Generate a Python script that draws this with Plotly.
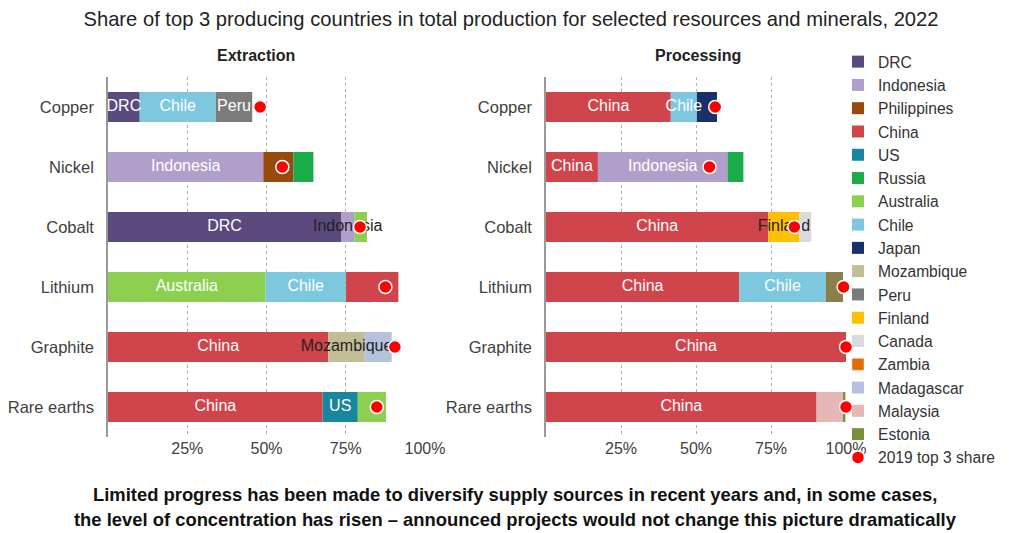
import plotly.graph_objects as go

W, H = 1029, 533

minerals = ["Copper", "Nickel", "Cobalt", "Lithium", "Graphite", "Rare earths"]

# Extraction: three largest producers per mineral, share of world output (%)
ext_first_country = ["DRC", "Indonesia", "DRC", "Australia", "China", "China"]
ext_first_share = [10.0, 49.0, 73.5, 49.7, 69.5, 67.7]
ext_second_country = ["Chile", "Philippines", "Indonesia", "Chile", "Mozambique", "US"]
ext_second_share = [24.0, 9.5, 4.2, 25.3, 11.5, 11.1]
ext_third_country = ["Peru", "Russia", "Australia", "China", "Madagascar", "Australia"]
ext_third_share = [11.5, 6.3, 4.0, 16.6, 8.5, 8.9]
ext_top3_2019 = [48.0, 55.0, 79.5, 87.5, 90.5, 84.8]

# Processing: three largest refiners per mineral, share of world output (%)
proc_first_country = ["China", "China", "China", "China", "China", "China"]
proc_first_share = [41.6, 17.3, 74.1, 64.4, 100.0, 90.2]
proc_second_country = ["Chile", "Indonesia", "Finland", "Chile", None, "Malaysia"]
proc_second_share = [8.7, 43.2, 10.4, 28.9, None, 8.8]
proc_third_country = ["Japan", "Russia", "Canada", "Argentina", None, "Estonia"]
proc_third_share = [6.7, 5.3, 3.9, 5.7, None, 0.8]
proc_top3_2019 = [56.4, 54.5, 82.8, 99.2, 100.0, 100.0]

# Segment labels ("" where the segment carries no label)
ext_labels = [
    ["DRC", "Indonesia", "DRC", "Australia", "China", "China"],
    ["Chile", "", "Indonesia", "Chile", "Mozambique", "US"],
    ["Peru", "", "", "", "", ""],
]
proc_labels = [
    ["China", "China", "China", "China", "China", "China"],
    ["Chile", "Indonesia", "Finland", "Chile", "", ""],
    ["", "", "", "", "", ""],
]
# labels wider than their segment are printed in dark ink
ext_label_ink = [
    ["white"] * 6,
    ["white", "white", "#222222", "white", "#222222", "white"],
    ["white"] * 6,
]
proc_label_ink = [
    ["white"] * 6,
    ["white", "white", "#222222", "white", "white", "white"],
    ["white"] * 6,
]

tick_vals = [25, 50, 75, 100]
tick_text = ["25%", "50%", "75%", "100%"]

legend_countries = ["DRC", "Indonesia", "Philippines", "China", "US", "Russia",
                    "Australia", "Chile", "Japan", "Mozambique", "Peru", "Finland",
                    "Canada", "Zambia", "Madagascar", "Malaysia", "Estonia"]

colors = {
    "DRC": "#5a4a7e", "Indonesia": "#b09fcb", "Philippines": "#974a0e",
    "China": "#d0454c", "US": "#17869e", "Russia": "#1aab4b",
    "Australia": "#8dcf50", "Chile": "#7dc8de", "Japan": "#1b2f6b",
    "Mozambique": "#c3bd96", "Peru": "#7b7b7b", "Finland": "#ffc000",
    "Canada": "#d9d9de", "Zambia": "#e36c09", "Madagascar": "#b5c1dd",
    "Malaysia": "#e5b8b7", "Estonia": "#76923c", "Argentina": "#8a7f4a",
}

FONT = "Liberation Sans, Arial, sans-serif"


def stack_segments(ranked_countries, ranked_shares):
    """Turn ranked producers into per-country bar segments with explicit bases."""
    segs = {}
    for i in range(len(minerals)):
        base = 0.0
        for countries, shares in zip(ranked_countries, ranked_shares):
            c, s = countries[i], shares[i]
            if c is None or s is None:
                continue
            d = segs.setdefault(c, {"x": [None] * len(minerals), "base": [None] * len(minerals)})
            d["x"][i] = s
            d["base"][i] = base
            base += s
    return segs


def segment_labels(ranked_shares, labels, inks):
    """Centre of every labelled segment, with its text and ink colour."""
    xs, ys, texts, tcs = [], [], [], []
    for i in range(len(minerals)):
        base = 0.0
        for shares, lab, ink in zip(ranked_shares, labels, inks):
            s = shares[i]
            if s is None:
                continue
            if lab[i]:
                xs.append(base + s / 2)
                ys.append(minerals[i])
                texts.append(lab[i])
                tcs.append(ink[i])
            base += s
    return xs, ys, texts, tcs


ext_ranked_c = [ext_first_country, ext_second_country, ext_third_country]
ext_ranked_s = [ext_first_share, ext_second_share, ext_third_share]
proc_ranked_c = [proc_first_country, proc_second_country, proc_third_country]
proc_ranked_s = [proc_first_share, proc_second_share, proc_third_share]

ext_segs = stack_segments(ext_ranked_c, ext_ranked_s)
proc_segs = stack_segments(proc_ranked_c, proc_ranked_s)

fig = go.Figure()


def add_bar(name, seg, xa, ya, showlegend):
    fig.add_trace(go.Bar(
        name=name, y=minerals, x=seg["x"], base=seg["base"], orientation="h",
        marker=dict(color=colors[name], line=dict(width=0)), width=0.5,
        legendgroup=name, showlegend=showlegend, xaxis=xa, yaxis=ya,
        hoverinfo="name+x",
    ))


for c in legend_countries:
    shown = False
    for segs, xa, ya in ((ext_segs, "x", "y"), (proc_segs, "x2", "y2")):
        if c in segs:
            add_bar(c, segs[c], xa, ya, not shown)
            shown = True
    if not shown:
        fig.add_trace(go.Bar(name=c, y=[None], x=[None], orientation="h",
                             marker=dict(color=colors[c]), legendgroup=c,
                             showlegend=True, xaxis="x", yaxis="y"))

# producer without its own legend entry
add_bar("Argentina", proc_segs["Argentina"], "x2", "y2", False)

# country names on the segments, above every bar
for ranked_s, labels, inks, xa, ya in ((ext_ranked_s, ext_labels, ext_label_ink, "x", "y"),
                                       (proc_ranked_s, proc_labels, proc_label_ink, "x2", "y2")):
    lx, ly, lt, lc = segment_labels(ranked_s, labels, inks)
    fig.add_trace(go.Scatter(x=lx, y=ly, text=lt, mode="text", textposition="middle center",
                             textfont=dict(size=16, color=lc, family=FONT),
                             showlegend=False, hoverinfo="skip", cliponaxis=False,
                             xaxis=xa, yaxis=ya))

dot = dict(color="#ff0000", size=13, line=dict(color="white", width=1.5))
fig.add_trace(go.Scatter(x=ext_top3_2019, y=minerals, mode="markers", marker=dot,
                         name="2019 top 3 share", legendgroup="dot", showlegend=True,
                         cliponaxis=False, xaxis="x", yaxis="y"))
fig.add_trace(go.Scatter(x=proc_top3_2019, y=minerals, mode="markers", marker=dot,
                         name="2019 top 3 share", legendgroup="dot", showlegend=False,
                         cliponaxis=False, xaxis="x2", yaxis="y2"))

ydom = [1 - 437 / H, 1 - 77 / H]
xcommon = dict(range=[0, 100], tickvals=tick_vals, ticktext=tick_text,
               showgrid=True, gridcolor="#b0b0b0", griddash="dot", gridwidth=1,
               zeroline=False, showline=False, ticks="", fixedrange=True,
               tickfont=dict(size=16, color="#404040", family=FONT))
ycommon = dict(categoryorder="array", categoryarray=minerals, autorange="reversed",
               showgrid=False, zeroline=False, showline=True, linecolor="#9a9a9a",
               linewidth=1.5, ticks="", ticklabelstandoff=9, domain=ydom,
               tickfont=dict(size=16.5, color="#404040", family=FONT))

fig.update_layout(
    width=W, height=H,
    margin=dict(l=0, r=0, t=0, b=0, autoexpand=False),
    paper_bgcolor="white", plot_bgcolor="white",
    barmode="overlay",
    font=dict(family=FONT, color="#333333"),
    xaxis=dict(domain=[108 / W, 425 / W], anchor="y", **xcommon),
    yaxis=dict(anchor="x", **ycommon),
    xaxis2=dict(domain=[546 / W, 846 / W], anchor="y2", **xcommon),
    yaxis2=dict(anchor="x2", **ycommon),
    title=dict(text="Share of top 3 producing countries in total production for selected resources and minerals, 2022",
               x=511 / W, xanchor="center", y=1 - 19 / H, yanchor="middle",
               font=dict(size=20.2, color="#222222", family=FONT)),
    legend=dict(x=838 / W, xanchor="left", y=1 - 45 / H, yanchor="top",
                traceorder="normal", font=dict(size=15.6, color="#333333", family=FONT),
                bgcolor="rgba(0,0,0,0)", itemwidth=30, tracegroupgap=0),
    showlegend=True,
)

annotations = [
    dict(text="<b>Extraction</b>", x=256 / W, y=1 - 55 / H),
    dict(text="<b>Processing</b>", x=698 / W, y=1 - 55 / H),
]
for a in annotations:
    fig.add_annotation(xref="paper", yref="paper", xanchor="center", yanchor="middle",
                       showarrow=False, font=dict(size=16, color="#222222", family=FONT), **a)

footer = [
    "<b>Limited progress has been made to diversify supply sources in recent years and, in some cases,</b>",
    "<b>the level of concentration has risen \u2013 announced projects would not change this picture dramatically</b>",
]
for line, ypx in zip(footer, [494, 519]):
    fig.add_annotation(text=line, xref="paper", yref="paper", x=515 / W, y=1 - ypx / H,
                       xanchor="center", yanchor="middle", showarrow=False,
                       font=dict(size=18.4, color="#111111", family=FONT))

fig.write_html("out.html")
